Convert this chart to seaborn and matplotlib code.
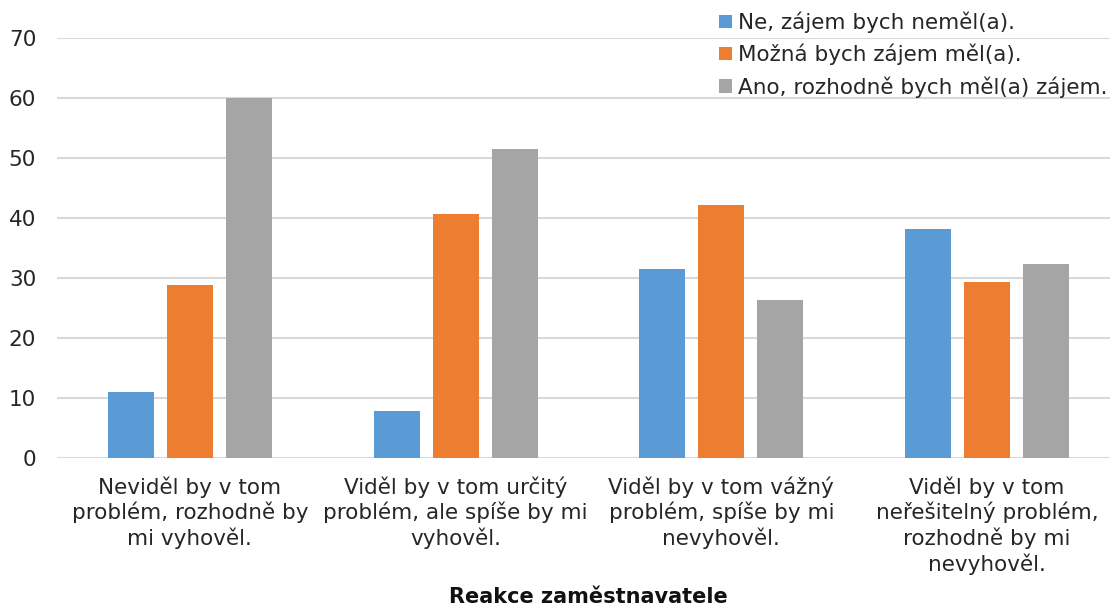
import pandas as pd
import matplotlib.pyplot as plt
import seaborn as sns

# Data
kategorie = [
    "Neviděl by v tom\nproblém, rozhodně by\nmi vyhověl.",
    "Viděl by v tom určitý\nproblém, ale spíše by mi\nvyhověl.",
    "Viděl by v tom vážný\nproblém, spíše by mi\nnevyhověl.",
    "Viděl by v tom\nneřešitelný problém,\nrozhodně by mi\nnevyhověl.",
]
serie = [
    "Ne, zájem bych neměl(a).",
    "Možná bych zájem měl(a).",
    "Ano, rozhodně bych měl(a) zájem.",
]
ne = [11.0, 7.8, 31.5, 38.2]
mozna = [28.8, 40.6, 42.1, 29.3]
ano = [60.0, 51.5, 26.3, 32.3]
barvy = ["#5B9BD5", "#ED7D31", "#A5A5A5"]

rows = []
for s, vals in zip(serie, [ne, mozna, ano]):
    for k, v in zip(kategorie, vals):
        rows.append({"kategorie": k, "serie": s, "hodnota": v})
df = pd.DataFrame(rows)

sns.set_theme(style="white")
plt.rcParams['font.family'] = ['DejaVu Sans']

fig = plt.figure(figsize=(11.1, 6.07), dpi=100)
ax = fig.add_axes([57 / 1110, 149 / 607, 1063 / 1110, 420 / 607])

sns.barplot(data=df, x="kategorie", y="hodnota", hue="serie", palette=barvy,
            width=0.665, gap=0.22, ax=ax, saturation=1, errorbar=None,
            linewidth=0)

ax.set_ylim(0, 70)
ax.set_yticks(range(0, 71, 10))
ax.yaxis.grid(True, color="#d9d9d9", linewidth=1.5)
ax.set_axisbelow(True)
for sp in ax.spines.values():
    sp.set_visible(False)
ax.tick_params(axis="both", length=0, colors="#262626", labelsize=15.5)
ax.tick_params(axis="x", pad=13)
ax.tick_params(axis="y", pad=15)
for lbl in ax.get_xticklabels():
    lbl.set_linespacing(1.25)
ax.set_ylabel("")
ax.set_xlabel("Reakce zaměstnavatele", fontsize=15, fontweight="bold",
              color="#111111")
ax.xaxis.label.set_va("baseline")
ax.xaxis.set_label_coords(531 / 1063, (458 - 603) / 420)

handles, labels = ax.get_legend_handles_labels()
ax.get_legend().remove()
fig.legend(handles, labels, loc="upper left", bbox_to_anchor=(700 / 1110, 1.013),
           frameon=False, fontsize=15.5, handlelength=0.6, handleheight=0.6,
           handletextpad=0.25, labelspacing=0.5, labelcolor="#262626")

fig.savefig("out.png", dpi=100)
